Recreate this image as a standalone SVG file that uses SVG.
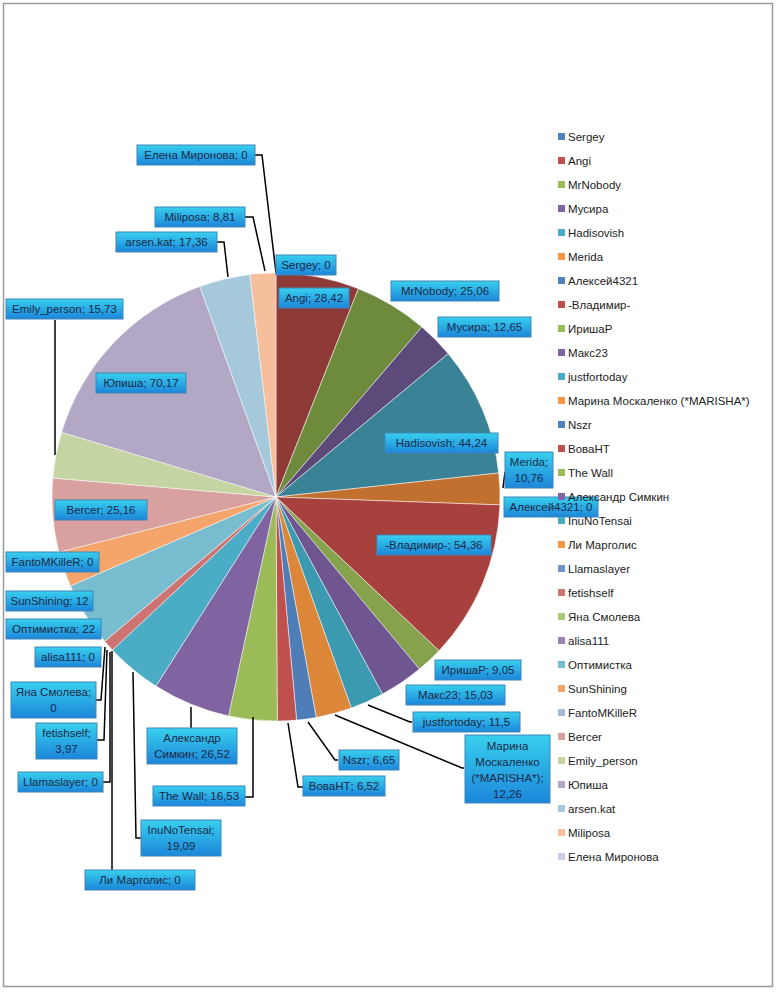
<svg xmlns="http://www.w3.org/2000/svg" width="776" height="996" viewBox="0 0 776 996">
<defs>
<linearGradient id="lg" x1="0" y1="0" x2="0" y2="1"><stop offset="0" stop-color="#38D0EE"/><stop offset="1" stop-color="#1C86DA"/></linearGradient>
<style>
text{font-family:"Liberation Sans",Arial,sans-serif;font-size:11.5px;fill:#1B2A48}
.lb{fill:url(#lg);stroke:#3E86B8;stroke-width:1}
.lg text{font-size:11.5px;fill:#222}
#slices path{stroke:#fff;stroke-width:0.5}
#connectors path{fill:none;stroke:#000;stroke-width:1.5}
</style>
</defs>
<rect x="3.5" y="3.5" width="769" height="983" fill="#fff" stroke="#9a9a9a" stroke-width="1.5"/>
<g id="slices">
<path d="M276,497 L276,273 A224,224 0 0 1 358.4,288.7Z" fill="#8E3B38"/>
<path d="M276,497 L358.4,288.7 A224,224 0 0 1 421.9,327Z" fill="#6E8B3D"/>
<path d="M276,497 L421.9,327 A224,224 0 0 1 448.2,353.7Z" fill="#5C4A7A"/>
<path d="M276,497 L448.2,353.7 A224,224 0 0 1 498.7,473Z" fill="#3A8396"/>
<path d="M276,497 L498.7,473 A224,224 0 0 1 499.9,504.9Z" fill="#C2702F"/>
<path d="M276,497 L499.9,504.9 A224,224 0 0 1 439,650.7Z" fill="#A8403D"/>
<path d="M276,497 L439,650.7 A224,224 0 0 1 419.4,669.1Z" fill="#86A24D"/>
<path d="M276,497 L419.4,669.1 A224,224 0 0 1 382.5,694.1Z" fill="#6F5691"/>
<path d="M276,497 L382.5,694.1 A224,224 0 0 1 351.3,708Z" fill="#3C9AB0"/>
<path d="M276,497 L351.3,708 A224,224 0 0 1 316.2,717.4Z" fill="#DB8638"/>
<path d="M276,497 L316.2,717.4 A224,224 0 0 1 296.6,720.1Z" fill="#4F7DB7"/>
<path d="M276,497 L296.6,720.1 A224,224 0 0 1 277.3,721Z" fill="#C0504D"/>
<path d="M276,497 L277.3,721 A224,224 0 0 1 228.5,715.9Z" fill="#9BBB59"/>
<path d="M276,497 L228.5,715.9 A224,224 0 0 1 156,686.1Z" fill="#8064A2"/>
<path d="M276,497 L156,686.1 A224,224 0 0 1 112.4,650Z" fill="#4BACC6"/>
<path d="M276,497 L112.4,650 A224,224 0 0 1 104.7,641.3Z" fill="#CD7371"/>
<path d="M276,497 L104.7,641.3 A224,224 0 0 1 70.4,585.9Z" fill="#78BCD0"/>
<path d="M276,497 L70.4,585.9 A224,224 0 0 1 58.9,552.2Z" fill="#F5A56B"/>
<path d="M276,497 L58.9,552.2 A224,224 0 0 1 52.8,478Z" fill="#D9A0A0"/>
<path d="M276,497 L52.8,478 A224,224 0 0 1 61.6,432.3Z" fill="#C4D5A3"/>
<path d="M276,497 L61.6,432.3 A224,224 0 0 1 199.8,286.4Z" fill="#B2A8C6"/>
<path d="M276,497 L199.8,286.4 A224,224 0 0 1 249.9,274.5Z" fill="#A5C9DA"/>
<path d="M276,497 L249.9,274.5 A224,224 0 0 1 276,273Z" fill="#F5BE9C"/>
</g>
<g id="connectors">
<path d="M255,155 H262 L276,273"/>
<path d="M245,217 H253 L265,271"/>
<path d="M217,242 H224 L228,277"/>
<path d="M55,320 V455"/>
<path d="M503,488 L505,472"/>
<path d="M368,705 L410,722 H412"/>
<path d="M335,715 L462,768 H464"/>
<path d="M308,722 L335,760 H338"/>
<path d="M288,723 L298,787 H303"/>
<path d="M253,717 V797 H245"/>
<path d="M191,707 V728"/>
<path d="M133,672 L136,838 H141"/>
<path d="M112,651 V870"/>
<path d="M110,652 V782 H103"/>
<path d="M107,650 L104,740 H97"/>
<path d="M105,647 L101,700 H96"/>
</g>
<g id="labels">
<g id="l-elena"><rect class="lb" x="137" y="145" width="118" height="20"/><text x="196" y="159" text-anchor="middle">Елена Миронова;  0</text></g>
<g id="l-miliposa"><rect class="lb" x="155" y="207" width="90" height="20"/><text x="200" y="221" text-anchor="middle">Miliposa; 8,81</text></g>
<g id="l-arsen"><rect class="lb" x="116" y="232" width="101" height="20"/><text x="166.5" y="246" text-anchor="middle">arsen.kat; 17,36</text></g>
<g id="l-sergey"><rect class="lb" x="276" y="255" width="60" height="20"/><text x="306" y="269" text-anchor="middle">Sergey; 0</text></g>
<g id="l-angi"><rect class="lb" x="279" y="288" width="70" height="20"/><text x="314" y="302" text-anchor="middle">Angi; 28,42</text></g>
<g id="l-mrnobody"><rect class="lb" x="391" y="281" width="108" height="20"/><text x="445" y="295" text-anchor="middle">MrNobody; 25,06</text></g>
<g id="l-musira"><rect class="lb" x="438" y="317" width="93" height="20"/><text x="484.5" y="331" text-anchor="middle">Мусира; 12,65</text></g>
<g id="l-hadisovish"><rect class="lb" x="385" y="433" width="113" height="20"/><text x="441.5" y="447" text-anchor="middle">Hadisovish; 44,24</text></g>
<g id="l-merida"><rect class="lb" x="505" y="452" width="48" height="36"/><text x="529" y="466" text-anchor="middle">Merida;</text><text x="529" y="482" text-anchor="middle">10,76</text></g>
<g id="l-aleksey"><rect class="lb" x="504" y="497" width="94" height="20"/><text x="551" y="511" text-anchor="middle">Алексей4321; 0</text></g>
<g id="l-vladimir"><rect class="lb" x="377" y="535" width="114" height="20"/><text x="434" y="549" text-anchor="middle">-Владимир-; 54,36</text></g>
<g id="l-irisha"><rect class="lb" x="435" y="660" width="86" height="20"/><text x="478" y="674" text-anchor="middle">ИришаР; 9,05</text></g>
<g id="l-maks"><rect class="lb" x="406" y="685" width="99" height="20"/><text x="455.5" y="699" text-anchor="middle">Макс23; 15,03</text></g>
<g id="l-just"><rect class="lb" x="413" y="712" width="107" height="20"/><text x="466.5" y="726" text-anchor="middle">justfortoday; 11,5</text></g>
<g id="l-marina"><rect class="lb" x="465" y="735" width="85" height="68"/><text x="507.5" y="750" text-anchor="middle">Марина</text><text x="507.5" y="766" text-anchor="middle">Москаленко</text><text x="507.5" y="782" text-anchor="middle">(*MARISHA*);</text><text x="507.5" y="798" text-anchor="middle">12,26</text></g>
<g id="l-nszr"><rect class="lb" x="339" y="750" width="60" height="20"/><text x="369" y="764" text-anchor="middle">Nszr; 6,65</text></g>
<g id="l-vova"><rect class="lb" x="303" y="776" width="82" height="20"/><text x="344" y="790" text-anchor="middle">ВоваНТ; 6,52</text></g>
<g id="l-simkin"><rect class="lb" x="147" y="728" width="90" height="36"/><text x="192" y="742" text-anchor="middle">Александр</text><text x="192" y="758" text-anchor="middle">Симкин; 26,52</text></g>
<g id="l-wall"><rect class="lb" x="153" y="786" width="92" height="20"/><text x="199" y="800" text-anchor="middle">The Wall; 16,53</text></g>
<g id="l-inu"><rect class="lb" x="141" y="820" width="80" height="36"/><text x="181" y="834" text-anchor="middle">InuNoTensai;</text><text x="181" y="850" text-anchor="middle">19,09</text></g>
<g id="l-li"><rect class="lb" x="85" y="870" width="110" height="20"/><text x="140" y="884" text-anchor="middle">Ли Марголис; 0</text></g>
<g id="l-llama"><rect class="lb" x="18" y="772" width="85" height="20"/><text x="60.5" y="786" text-anchor="middle">Llamaslayer; 0</text></g>
<g id="l-fetish"><rect class="lb" x="36" y="723" width="61" height="36"/><text x="66.5" y="737" text-anchor="middle">fetishself;</text><text x="66.5" y="753" text-anchor="middle">3,97</text></g>
<g id="l-yana"><rect class="lb" x="11" y="682" width="85" height="36"/><text x="53.5" y="696" text-anchor="middle">Яна Смолева;</text><text x="53.5" y="712" text-anchor="middle">0</text></g>
<g id="l-alisa"><rect class="lb" x="35" y="647" width="66" height="20"/><text x="68" y="661" text-anchor="middle">alisa111; 0</text></g>
<g id="l-optim"><rect class="lb" x="6" y="619" width="95" height="20"/><text x="53.5" y="633" text-anchor="middle">Оптимистка; 22</text></g>
<g id="l-sun"><rect class="lb" x="6" y="591" width="87" height="20"/><text x="49.5" y="605" text-anchor="middle">SunShining; 12</text></g>
<g id="l-fanto"><rect class="lb" x="6" y="552" width="93" height="20"/><text x="52.5" y="566" text-anchor="middle">FantoMKilleR; 0</text></g>
<g id="l-bercer"><rect class="lb" x="55" y="500" width="92" height="20"/><text x="101" y="514" text-anchor="middle">Bercer; 25,16</text></g>
<g id="l-yupisha"><rect class="lb" x="96" y="373" width="90" height="20"/><text x="141" y="387" text-anchor="middle">Юпиша; 70,17</text></g>
<g id="l-emily"><rect class="lb" x="6" y="299" width="117" height="20"/><text x="64.5" y="313" text-anchor="middle">Emily_person; 15,73</text></g>
</g>
<g id="legend" class="lg">
<rect x="558" y="133" width="7" height="7" fill="#4F81BD"/><text x="568" y="141">Sergey</text>
<rect x="558" y="157" width="7" height="7" fill="#C0504D"/><text x="568" y="165">Angi</text>
<rect x="558" y="181" width="7" height="7" fill="#9BBB59"/><text x="568" y="189">MrNobody</text>
<rect x="558" y="205" width="7" height="7" fill="#8064A2"/><text x="568" y="213">Мусира</text>
<rect x="558" y="229" width="7" height="7" fill="#4BACC6"/><text x="568" y="237">Hadisovish</text>
<rect x="558" y="253" width="7" height="7" fill="#F79646"/><text x="568" y="261">Merida</text>
<rect x="558" y="277" width="7" height="7" fill="#4F81BD"/><text x="568" y="285">Алексей4321</text>
<rect x="558" y="301" width="7" height="7" fill="#C0504D"/><text x="568" y="309">-Владимир-</text>
<rect x="558" y="325" width="7" height="7" fill="#9BBB59"/><text x="568" y="333">ИришаР</text>
<rect x="558" y="349" width="7" height="7" fill="#8064A2"/><text x="568" y="357">Макс23</text>
<rect x="558" y="373" width="7" height="7" fill="#4BACC6"/><text x="568" y="381">justfortoday</text>
<rect x="558" y="397" width="7" height="7" fill="#F79646"/><text x="568" y="405">Марина Москаленко (*MARISHA*)</text>
<rect x="558" y="421" width="7" height="7" fill="#4F81BD"/><text x="568" y="429">Nszr</text>
<rect x="558" y="445" width="7" height="7" fill="#C0504D"/><text x="568" y="453">ВоваНТ</text>
<rect x="558" y="469" width="7" height="7" fill="#9BBB59"/><text x="568" y="477">The Wall</text>
<rect x="558" y="493" width="7" height="7" fill="#8064A2"/><text x="568" y="501">Александр Симкин</text>
<rect x="558" y="517" width="7" height="7" fill="#4BACC6"/><text x="568" y="525">InuNoTensai</text>
<rect x="558" y="541" width="7" height="7" fill="#F79646"/><text x="568" y="549">Ли Марголис</text>
<rect x="558" y="565" width="7" height="7" fill="#7394C8"/><text x="568" y="573">Llamaslayer</text>
<rect x="558" y="589" width="7" height="7" fill="#CD7371"/><text x="568" y="597">fetishself</text>
<rect x="558" y="613" width="7" height="7" fill="#AFC97A"/><text x="568" y="621">Яна Смолева</text>
<rect x="558" y="637" width="7" height="7" fill="#9983B5"/><text x="568" y="645">alisa111</text>
<rect x="558" y="661" width="7" height="7" fill="#78BCD0"/><text x="568" y="669">Оптимистка</text>
<rect x="558" y="685" width="7" height="7" fill="#F5A56B"/><text x="568" y="693">SunShining</text>
<rect x="558" y="709" width="7" height="7" fill="#A5B8DA"/><text x="568" y="717">FantoMKilleR</text>
<rect x="558" y="733" width="7" height="7" fill="#D9A0A0"/><text x="568" y="741">Bercer</text>
<rect x="558" y="757" width="7" height="7" fill="#C4D5A3"/><text x="568" y="765">Emily_person</text>
<rect x="558" y="781" width="7" height="7" fill="#B2A8C6"/><text x="568" y="789">Юпиша</text>
<rect x="558" y="805" width="7" height="7" fill="#A5C9DA"/><text x="568" y="813">arsen.kat</text>
<rect x="558" y="829" width="7" height="7" fill="#F5BE9C"/><text x="568" y="837">Miliposa</text>
<rect x="558" y="853" width="7" height="7" fill="#C5CEE3"/><text x="568" y="861">Елена Миронова</text>
</g>
</svg>
